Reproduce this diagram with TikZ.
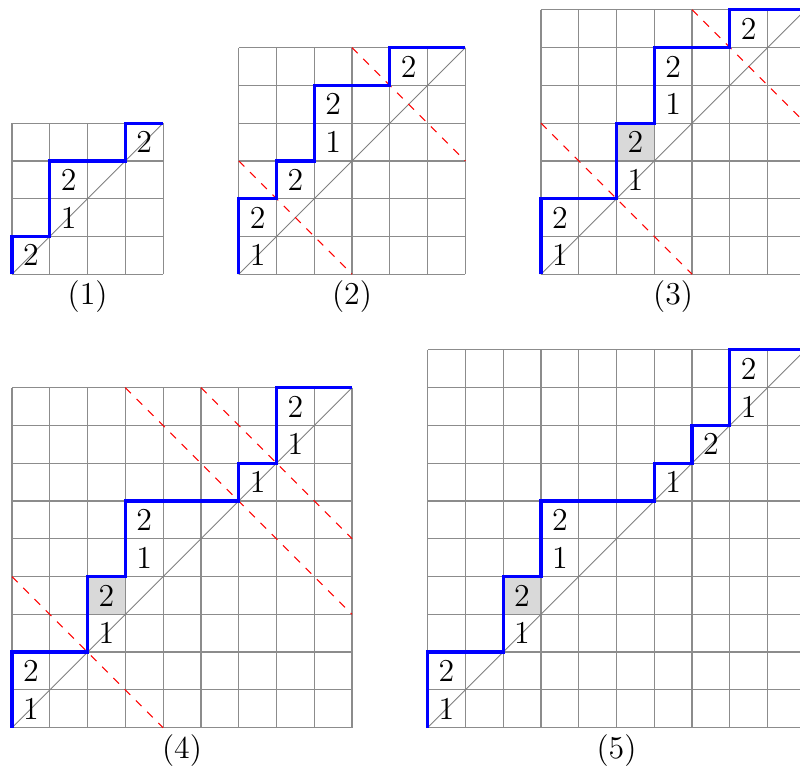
\documentclass[tikz,border=0pt]{standalone}
\begin{document}
\begin{tikzpicture}[x=0.5cm,y=0.5cm,
  gridl/.style={black!45, line width=0.45pt, step=0.5cm},
  diagl/.style={black!50, line width=0.35pt},
  pathl/.style={blue, line width=1.2pt, line join=miter},
  redl/.style={red, dashed, line width=0.4pt},
  lab/.style={font=\fontsize{12}{14}\selectfont, inner sep=0pt},
  shadecell/.style={fill=black!15}]
\path[use as bounding box] (-0.318,-1.12) rectangle (20.857,19.26);
\clip (-0.318,-1.12) rectangle (20.857,19.26);
% ---------------- panel 1
\begin{scope}[shift={(0,12)}]
\draw[gridl] (0,0) grid (4,4);
\draw[diagl] (0,0) -- (4,4);
\draw[pathl] (0,0) |- (1,1) |- (3,3) |- (4,4);
\node[lab] (a1) at (0.5,0.5) {2};
\node[lab] (a2) at (1.5,1.5) {1};
\node[lab] (a3) at (1.5,2.5) {2};
\node[lab] (a4) at (3.5,3.5) {2};
\node[lab] (ac) at (2,-0.6) {(1)};
\end{scope}
% ---------------- panel 2
\begin{scope}[shift={(6,12)}]
\draw[gridl] (0,0) grid (6,6);
\draw[diagl] (0,0) -- (6,6);
\draw[redl] (0,3) -- (3,0);
\draw[redl] (3,6) -- (6,3);
\draw[pathl] (0,0) |- (1,2) |- (2,3) |- (4,5) |- (6,6);
\node[lab] (b1) at (0.5,0.5) {1};
\node[lab] (b2) at (0.5,1.5) {2};
\node[lab] (b3) at (1.5,2.5) {2};
\node[lab] (b4) at (2.5,3.5) {1};
\node[lab] (b5) at (2.5,4.5) {2};
\node[lab] (b6) at (4.5,5.5) {2};
\node[lab] (bc) at (3,-0.6) {(2)};
\end{scope}
% ---------------- panel 3
\begin{scope}[shift={(14,12)}]
\fill[shadecell] (2,3) rectangle (3,4);
\draw[gridl] (0,0) grid (7,7);
\draw[diagl] (0,0) -- (7,7);
\draw[redl] (0,4) -- (4,0);
\draw[redl] (4,7) -- (7,4);
\draw[pathl] (0,0) |- (2,2) |- (3,4) |- (5,6) |- (7,7);
\node[lab] (c1) at (0.5,0.5) {1};
\node[lab] (c2) at (0.5,1.5) {2};
\node[lab] (c3) at (2.5,2.5) {1};
\node[lab] (c4) at (2.5,3.5) {2};
\node[lab] (c5) at (3.5,4.5) {1};
\node[lab] (c6) at (3.5,5.5) {2};
\node[lab] (c7) at (5.5,6.5) {2};
\node[lab] (cc) at (3.5,-0.6) {(3)};
\end{scope}
% ---------------- panel 4
\begin{scope}[shift={(0,0)}]
\fill[shadecell] (2,3) rectangle (3,4);
\draw[gridl] (0,0) grid (9,9);
\draw[diagl] (0,0) -- (9,9);
\draw[redl] (0,4) -- (4,0);
\draw[redl] (3,9) -- (9,3);
\draw[redl] (5,9) -- (9,5);
\draw[pathl] (0,0) |- (2,2) |- (3,4) |- (6,6) |- (7,7) |- (9,9);
\node[lab] (d1) at (0.5,0.5) {1};
\node[lab] (d2) at (0.5,1.5) {2};
\node[lab] (d3) at (2.5,2.5) {1};
\node[lab] (d4) at (2.5,3.5) {2};
\node[lab] (d5) at (3.5,4.5) {1};
\node[lab] (d6) at (3.5,5.5) {2};
\node[lab] (d7) at (6.5,6.5) {1};
\node[lab] (d8) at (7.5,7.5) {1};
\node[lab] (d9) at (7.5,8.5) {2};
\node[lab] (dc) at (4.5,-0.6) {(4)};
\end{scope}
% ---------------- panel 5
\begin{scope}[shift={(11,0)}]
\fill[shadecell] (2,3) rectangle (3,4);
\draw[gridl] (0,0) grid (10,10);
\draw[diagl] (0,0) -- (10,10);
\draw[pathl] (0,0) |- (2,2) |- (3,4) |- (6,6) |- (7,7) |- (8,8) |- (10,10);
\node[lab] (e1) at (0.5,0.5) {1};
\node[lab] (e2) at (0.5,1.5) {2};
\node[lab] (e3) at (2.5,2.5) {1};
\node[lab] (e4) at (2.5,3.5) {2};
\node[lab] (e5) at (3.5,4.5) {1};
\node[lab] (e6) at (3.5,5.5) {2};
\node[lab] (e7) at (6.5,6.5) {1};
\node[lab] (e8) at (7.5,7.5) {2};
\node[lab] (e9) at (8.5,8.5) {1};
\node[lab] (e10) at (8.5,9.5) {2};
\node[lab] (ec) at (5,-0.6) {(5)};
\end{scope}
\end{tikzpicture}
\end{document}
